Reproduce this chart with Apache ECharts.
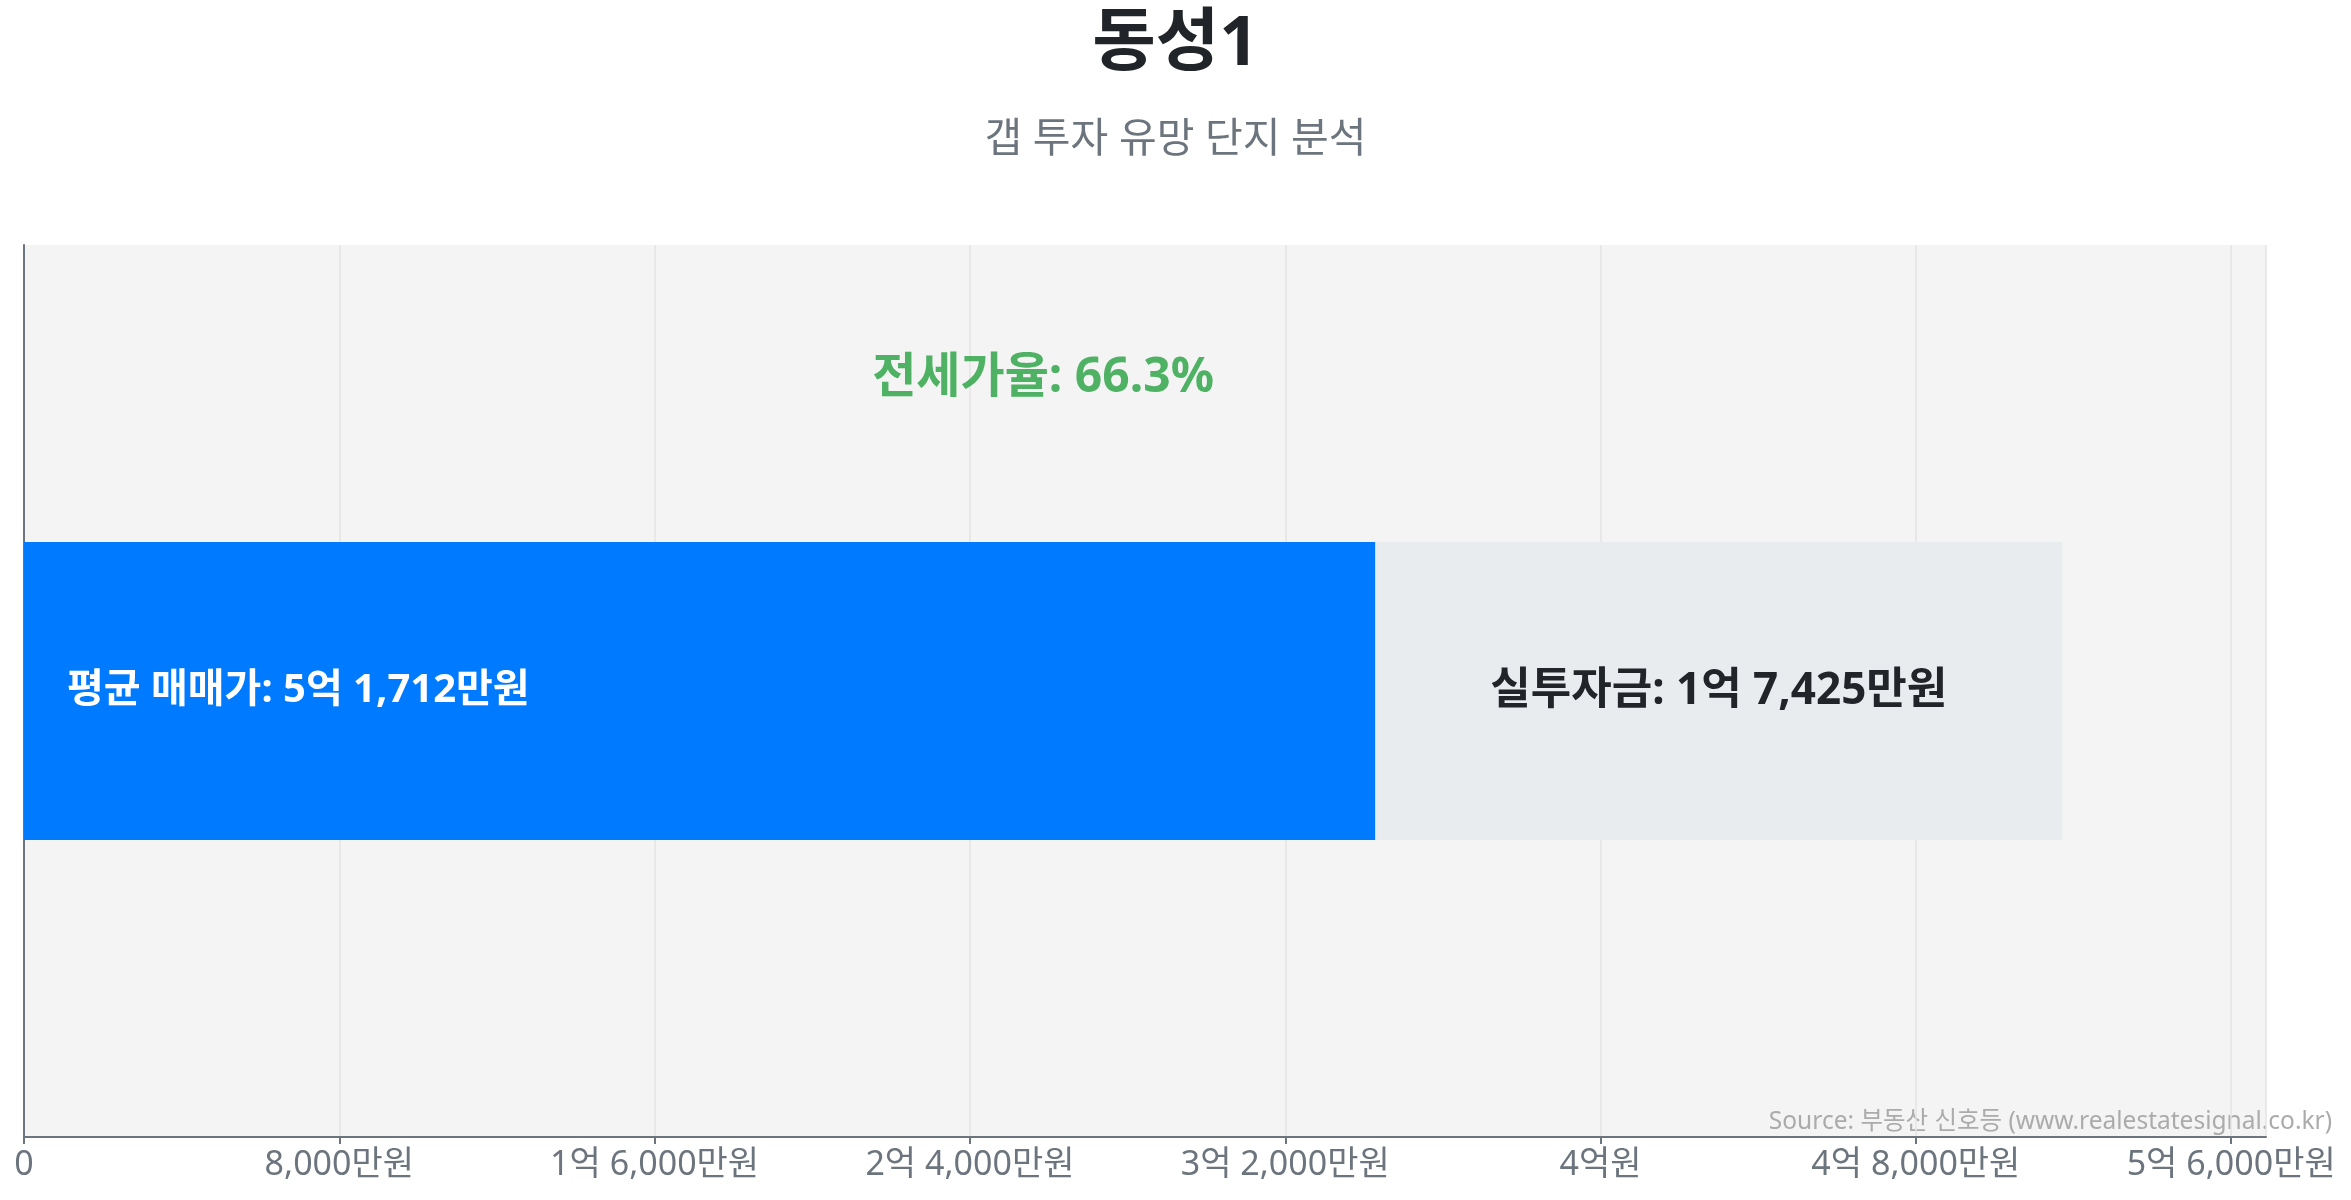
<!DOCTYPE html>
<html lang="ko">
<head>
    <meta charset="utf-8">
    <title>동성1 - 갭 투자 유망 단지 분석</title>
    <style>
        html, body { margin: 0; padding: 0; background: #fff; }
        #gapChart { width: 2351px; height: 1200px; }
    </style>
</head>
<body>
    <div id="gapChart"></div>

    <script src="https://cdn.jsdelivr.net/npm/echarts@6/dist/echarts.min.js"></script>
    <script>
        // 단위: 만원
        var complexNames = ['동성1'];
        var salePrices = [51712];     // 평균 매매가
        var jeonsePrices = [34287];   // 전세가
        var investments = [17425];    // 실투자금
        var jeonseRatios = [66.3];    // 전세가율 (%)
        var tickStep = 8000;

        var FONT = "'Noto Sans', 'Noto Sans CJK KR', sans-serif";

        function fmtMan(v) {
            if (v === 0) return '0';
            var eok = Math.floor(v / 10000);
            var man = Math.round(v % 10000);
            if (eok && man) return eok + '억 ' + man.toLocaleString('en-US') + '만원';
            if (eok) return eok + '억원';
            return man.toLocaleString('en-US') + '만원';
        }

        var myChart = echarts.init(document.getElementById('gapChart'));
        var option = {
            backgroundColor: '#ffffff',
            animation: false,
            title: [{
                text: complexNames[0],
                left: 'center',
                top: 6,
                textStyle: { fontFamily: FONT, fontSize: 69, fontWeight: 'bold', color: '#212529' }
            }, {
                text: '갭 투자 유망 단지 분석',
                left: 'center',
                top: 115,
                textStyle: { fontFamily: FONT, fontSize: 41, fontWeight: 'normal', color: '#6c757d' }
            }],
            graphic: [{
                type: 'text',
                right: 19,
                top: 1110,
                style: {
                    text: 'Source: 부동산 신호등 (www.realestatesignal.co.kr)',
                    font: '24.5px ' + FONT,
                    fill: '#ababab'
                }
            }],
            grid: {
                left: 24,
                right: 85,
                top: 245,
                bottom: 63,
                show: true,
                backgroundColor: '#f4f4f4',
                borderWidth: 0,
                containLabel: false
            },
            xAxis: {
                type: 'value',
                min: 0,
                max: salePrices[0] * 1.1,
                interval: tickStep,
                axisLine: { show: true, lineStyle: { color: '#6c757d', width: 2 } },
                axisTick: { show: true, length: 7, lineStyle: { color: '#6c757d', width: 2 } },
                axisLabel: {
                    show: true,
                    showMaxLabel: false,
                    margin: 11,
                    fontFamily: FONT,
                    fontSize: 34,
                    color: '#6c757d',
                    formatter: function (v) {
                        return v % tickStep === 0 ? fmtMan(v) : '';
                    }
                },
                splitLine: { show: true, lineStyle: { color: '#e4e4e4', width: 1.5 } }
            },
            yAxis: {
                type: 'category',
                data: complexNames,
                axisLine: { show: true, lineStyle: { color: '#6c757d', width: 2 } },
                axisTick: { show: false },
                axisLabel: { show: false },
                splitLine: { show: false }
            },
            series: [{
                name: '전세가',
                type: 'bar',
                stack: 'price',
                barWidth: '33.4%',
                itemStyle: { color: '#007bff' },
                label: {
                    show: true,
                    position: 'insideLeft',
                    distance: 43,
                    fontFamily: FONT,
                    fontSize: 40,
                    fontWeight: 'bold',
                    color: '#ffffff',
                    formatter: function (p) {
                        return '평균 매매가: ' + fmtMan(salePrices[p.dataIndex]);
                    }
                },
                data: jeonsePrices
            }, {
                name: '실투자금',
                type: 'bar',
                stack: 'price',
                barWidth: '33.4%',
                itemStyle: { color: '#e9ecef' },
                label: {
                    show: true,
                    position: 'inside',
                    fontFamily: FONT,
                    fontSize: 44,
                    fontWeight: 'bold',
                    color: '#212529',
                    formatter: function (p) {
                        return '실투자금: ' + fmtMan(p.value);
                    }
                },
                data: investments
            }, {
                // 전세가율 표시 (매매가 중앙 위쪽)
                name: '전세가율',
                type: 'scatter',
                symbolSize: 0,
                silent: true,
                label: {
                    show: true,
                    position: 'inside',
                    offset: [0, -313],
                    fontFamily: FONT,
                    fontSize: 48,
                    fontWeight: 'bold',
                    color: '#24a03f',
                    formatter: function (p) {
                        return '전세가율: ' + jeonseRatios[p.dataIndex].toFixed(1) + '%';
                    }
                },
                data: salePrices.map(function (v, i) { return [v / 2, complexNames[i]]; })
            }]
        };
        myChart.setOption(option);
    </script>
</body>
</html>
